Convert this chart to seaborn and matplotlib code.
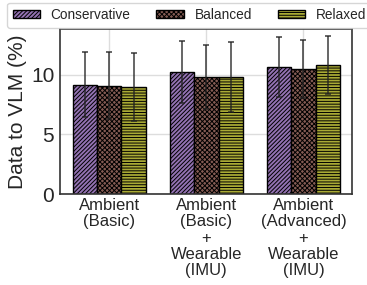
import pandas as pd
import numpy as np
import matplotlib
matplotlib.use("Agg")
import matplotlib.pyplot as plt
import seaborn as sns

# values
groups = ["Ambient\n(Basic)", "Ambient\n(Basic)\n+\nWearable\n(IMU)", "Ambient\n(Advanced)\n+\nWearable\n(IMU)"]
modes = ["Conservative", "Balanced", "Relaxed"]
conservative = [9.15, 10.2, 10.65]
balanced = [9.05, 9.8, 10.45]
relaxed = [8.98, 9.8, 10.8]
conservative_err = [2.7, 2.6, 2.5]
balanced_err = [2.8, 2.7, 2.4]
relaxed_err = [2.85, 2.9, 2.4]

colors = ["#9467bd", "#8c564b", "#bcbd22"]
hatches = ["////////", "xxxxxxx", "------"]

df = pd.DataFrame({
    "group": groups * 3,
    "mode": [m for m in modes for _ in groups],
    "value": conservative + balanced + relaxed,
    "err": conservative_err + balanced_err + relaxed_err,
})

sns.set_theme(style="whitegrid")
plt.rcParams["font.family"] = ["Liberation Sans", "DejaVu Sans"]
plt.rcParams["hatch.linewidth"] = 0.7

fig = plt.figure(figsize=(3.67, 2.85), dpi=100)
ax = fig.add_axes([0.163, 0.319, 0.796, 0.579])

sns.barplot(data=df, x="group", y="value", hue="mode", palette=colors,
            errorbar=None, width=0.75, edgecolor="black", linewidth=1.0,
            ax=ax, legend=True)

# hatches + error bars
bar_containers = list(ax.containers)
for i, cont in enumerate(bar_containers):
    errs = df[df["mode"] == modes[i]]["err"].values
    vals = df[df["mode"] == modes[i]]["value"].values
    xs = []
    for bar in cont:
        bar.set_hatch(hatches[i])
        xs.append(bar.get_x() + bar.get_width() / 2)
    ax.errorbar(xs, vals, yerr=errs, fmt="none", ecolor="#222222",
                elinewidth=1.3, capsize=2.2, capthick=1.3, alpha=0.75)

ax.set_xlabel("")
ax.set_ylabel("Data to VLM (%)", fontsize=15, labelpad=3)
ax.set_ylim(0, 13.8)
ax.set_xlim(-0.51, 2.5)
ax.set_yticks([0, 5, 10])
ax.xaxis.grid(True, color="#dddddd")
ax.yaxis.grid(True, color="#dddddd")
ax.tick_params(axis="y", labelsize=15, length=0, pad=4)
ax.tick_params(axis="x", labelsize=12, length=0, pad=3)
for lbl in ax.get_xticklabels():
    lbl.set_linespacing(1.1)
for s in ax.spines.values():
    s.set_color("#333333")
    s.set_linewidth(1.2)

handles, labels = ax.get_legend_handles_labels()
ax.get_legend().remove()
for h, ht in zip(handles, hatches):
    h.set_hatch(ht)
fig.legend(handles, labels, loc="upper left", bbox_to_anchor=(0.012, 1.0),
           ncol=3, fontsize=9.8, frameon=True, handlelength=2.0,
           handleheight=0.5, columnspacing=1.9, borderaxespad=0.2)

fig.savefig("out.png", dpi=100)
